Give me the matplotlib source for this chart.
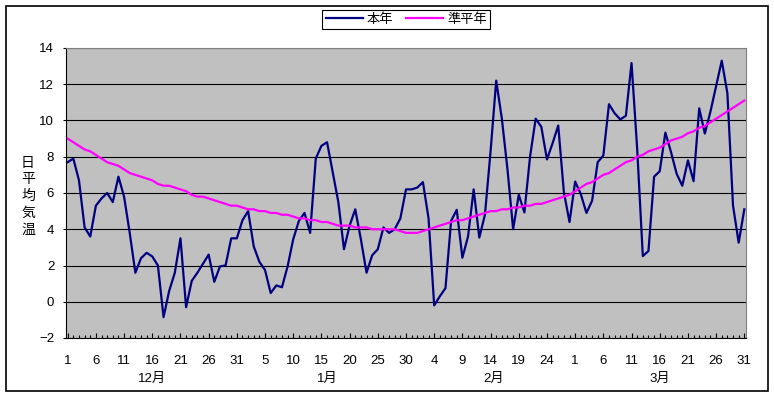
import matplotlib
matplotlib.use("Agg")
import matplotlib.pyplot as plt
import matplotlib.patches as patches
from matplotlib.ticker import FixedLocator, MultipleLocator

plt.rcParams['font.family'] = ['Liberation Sans', 'Noto Sans CJK JP', 'DejaVu Sans']

# 12月〜3月の日別データ
month_names = ['12月', '1月', '2月', '3月']
month_days = [31, 31, 28, 31]

# 本年 日平均気温
honnen = [
    # 12月
    7.7, 7.9, 6.7, 4.1, 3.6, 5.3, 5.7, 6.0, 5.5, 6.9,
    5.8, 3.8, 1.6, 2.4, 2.7, 2.5, 2.0, -0.85, 0.6, 1.6,
    3.5, -0.3, 1.15, 1.6, 2.1, 2.6, 1.1, 1.95, 2.0, 3.5, 3.5,
    # 1月
    4.5, 5.0, 3.05, 2.2, 1.75, 0.48, 0.9, 0.8, 1.95, 3.45,
    4.46, 4.9, 3.8, 7.9, 8.6, 8.8, 7.15, 5.5, 2.9, 4.2,
    5.1, 3.44, 1.6, 2.56, 2.9, 4.1, 3.8, 4.0, 4.6, 6.2, 6.2,
    # 2月
    6.3, 6.6, 4.6, -0.2, 0.3, 0.75, 4.46, 5.07, 2.43, 3.6,
    6.2, 3.54, 4.8, 8.3, 12.2, 10.1, 7.3, 4.0, 5.9, 4.93,
    8.0, 10.1, 9.65, 7.85, 8.75, 9.72, 6.04, 4.4,
    # 3月
    6.63, 5.94, 4.9, 5.57, 7.7, 8.07, 10.9, 10.4, 10.06, 10.26,
    13.17, 8.44, 2.52, 2.8, 6.9, 7.2, 9.33, 8.26, 7.06, 6.4,
    7.8, 6.65, 10.67, 9.28, 10.5, 11.9, 13.3, 11.5, 5.3, 3.26, 5.1,
]

# 準平年 日平均気温
heinen = [
    # 12月
    9.0, 8.8, 8.6, 8.4, 8.3, 8.1, 7.9, 7.7, 7.6, 7.5,
    7.3, 7.1, 7.0, 6.9, 6.8, 6.7, 6.5, 6.4, 6.4, 6.3,
    6.2, 6.1, 5.9, 5.8, 5.8, 5.7, 5.6, 5.5, 5.4, 5.3, 5.3,
    # 1月
    5.2, 5.1, 5.1, 5.0, 5.0, 4.9, 4.9, 4.8, 4.8, 4.7,
    4.6, 4.6, 4.5, 4.5, 4.4, 4.4, 4.3, 4.2, 4.2, 4.2,
    4.1, 4.1, 4.1, 4.0, 4.0, 4.0, 4.0, 4.0, 3.9, 3.8, 3.8,
    # 2月
    3.8, 3.9, 4.0, 4.1, 4.2, 4.3, 4.4, 4.5, 4.5, 4.6,
    4.7, 4.8, 4.9, 5.0, 5.0, 5.1, 5.1, 5.2, 5.2, 5.3,
    5.3, 5.4, 5.4, 5.5, 5.6, 5.7, 5.8, 5.9,
    # 3月
    6.1, 6.3, 6.5, 6.6, 6.8, 7.0, 7.1, 7.3, 7.5, 7.7,
    7.8, 8.0, 8.1, 8.3, 8.4, 8.5, 8.7, 8.9, 9.0, 9.1,
    9.3, 9.4, 9.6, 9.7, 9.9, 10.1, 10.3, 10.5, 10.7, 10.9, 11.1,
]

y_ticks = [-2, 0, 2, 4, 6, 8, 10, 12, 14]

days = []
for n in month_days:
    days += list(range(1, n + 1))
x = list(range(len(days)))

fig = plt.figure(figsize=(7.74, 3.96), dpi=100)
ax = fig.add_axes([66 / 774, 58 / 396, 680 / 774, 290 / 396])
ax.set_facecolor('#C0C0C0')

ax.grid(axis='y', color='black', linewidth=0.8)
ax.set_axisbelow(True)
l1, = ax.plot(x, honnen, color='#000080', linewidth=1.6, label='本年')
l2, = ax.plot(x, heinen, color='#FF00FF', linewidth=1.6, label='準平年')

ax.set_xlim(-0.3, len(x) - 0.7)
ax.set_ylim(-2, 14)
ax.set_yticks(y_ticks)

major = x[::5]
ax.xaxis.set_major_locator(FixedLocator(major))
ax.set_xticklabels([str(days[i]) for i in major])
ax.xaxis.set_minor_locator(MultipleLocator(1))
ax.tick_params(axis='x', which='major', direction='in', length=3.5, width=0.8, pad=12, labelsize=9.5)
ax.tick_params(axis='x', which='minor', direction='in', length=2, width=0.8)
ax.tick_params(axis='y', direction='out', length=2.5, width=0.8, pad=6, labelsize=9.5)

for side in ['top', 'right']:
    ax.spines[side].set_color('#808080')
for side in ['left', 'bottom']:
    ax.spines[side].set_color('black')

# 月ラベル
start = 0
for name, n in zip(month_names, month_days):
    ax.text(start + (n - 1) / 2, -0.141, name, transform=ax.get_xaxis_transform(),
            ha='center', va='center', fontsize=9.5)
    start += n

fig.text(28 / 774, 0.505, '\n'.join('日平均気温'), ha='center', va='center',
         fontsize=10, linespacing=1.25)

fig.legend(handles=[l1, l2], loc='upper center', bbox_to_anchor=(0.525, 0.975), ncol=2,
           frameon=True, fancybox=False, edgecolor='black', framealpha=1,
           fontsize=9.5, handlelength=2.8, columnspacing=1.0, handletextpad=0.3,
           borderpad=0.25, borderaxespad=0)
fig.legends[0].get_frame().set_linewidth(0.8)

fig.patches.append(patches.Rectangle((6 / 774, 5 / 396), 762 / 774, 385 / 396, transform=fig.transFigure,
                                     fill=False, edgecolor='black', linewidth=1.2))

plt.savefig('out.png', dpi=100)
